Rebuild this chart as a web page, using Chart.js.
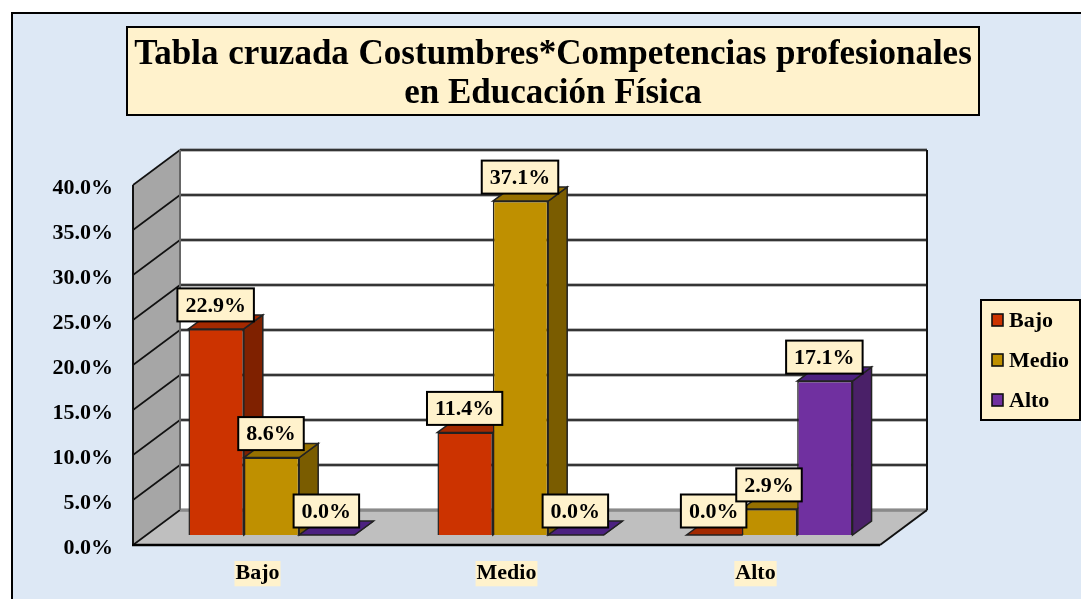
<!DOCTYPE html>
<html><head><meta charset="utf-8">
<style>html,body{margin:0;padding:0;background:#fff}canvas{display:block}</style>
<script src="https://cdn.jsdelivr.net/npm/chart.js@4/dist/chart.umd.min.js"></script>
</head><body><canvas id="c" width="1081" height="599"></canvas>
<script>
const categories = ['Bajo', 'Medio', 'Alto'];
const bajoValues = [22.9, 11.4, 0.0];
const medioValues = [8.6, 37.1, 2.9];
const altoValues = [0.0, 0.0, 17.1];
const titleLines = ['Tabla cruzada Costumbres*Competencias profesionales', 'en Educación Física'];
const SERIF = '"Liberation Serif","Times New Roman",serif';
const DEPTH = {x: 47, y: 35}, BAR_DEPTH = {x: 19, y: 14}, BAR_SHIFT = {x: 14, y: -10};
const CREAM = '#FFF2CC';
const shades = [{top: '#A32900', side: '#7F2100'}, {top: '#967000', side: '#7A5C00'}, {top: '#4C2180', side: '#4A2068'}];

function poly(ctx, pts, fill, stroke, lw) {
  ctx.beginPath();
  pts.forEach((p, i) => i ? ctx.lineTo(p[0], p[1]) : ctx.moveTo(p[0], p[1]));
  ctx.closePath();
  if (fill) { ctx.fillStyle = fill; ctx.fill(); }
  if (stroke) { ctx.strokeStyle = stroke; ctx.lineWidth = lw; ctx.stroke(); }
}
function seg(ctx, x1, y1, x2, y2, color, lw) {
  ctx.beginPath(); ctx.moveTo(x1, y1); ctx.lineTo(x2, y2);
  ctx.strokeStyle = color; ctx.lineWidth = lw; ctx.stroke();
}
function boxedText(ctx, text, cx, cy, w, h) {
  ctx.fillStyle = CREAM; ctx.fillRect(cx - w / 2, cy - h / 2, w, h);
  ctx.strokeStyle = '#000'; ctx.lineWidth = 2; ctx.strokeRect(cx - w / 2, cy - h / 2, w, h);
  ctx.fillStyle = '#000'; ctx.textAlign = 'center'; ctx.textBaseline = 'middle';
  ctx.fillText(text, cx, cy + 1);
}
function shiftLabels(scale, dy) {
  if (scale._labelsShifted) return;
  scale._labelsShifted = true;
  const orig = scale.drawLabels;
  scale.drawLabels = function (area) {
    const ctx = this.ctx;
    ctx.save(); ctx.translate(0, dy); orig.call(this, area); ctx.restore();
  };
}

const scene = {
  id: 'scene',
  beforeDraw(chart) {
    const {ctx, chartArea: a, scales: {y}} = chart;
    ctx.save();
    ctx.fillStyle = '#fff'; ctx.fillRect(0, 0, 1081, 599);
    ctx.fillStyle = '#DDE8F5'; ctx.fillRect(12, 13, 1069, 586);
    seg(ctx, 12, 13, 1081, 13, '#000', 2);
    seg(ctx, 12, 12, 12, 599, '#000', 2);
    // title box
    ctx.fillStyle = CREAM; ctx.fillRect(127, 27, 852, 88);
    ctx.strokeStyle = '#000'; ctx.lineWidth = 2; ctx.strokeRect(127, 27, 852, 88);
    ctx.fillStyle = '#000'; ctx.font = 'bold 35px ' + SERIF;
    ctx.textAlign = 'center'; ctx.textBaseline = 'middle';
    ctx.wordSpacing = '1px';
    ctx.fillText(titleLines[0], 553, 55);
    ctx.wordSpacing = '0px';
    ctx.fillText(titleLines[1], 553, 94);
    // walls
    const dx = DEPTH.x, dy = DEPTH.y, b = y.getPixelForValue(0), t = y.getPixelForValue(40);
    ctx.fillStyle = '#fff'; ctx.fillRect(a.left + dx, t - dy, a.right - a.left, b - t);
    poly(ctx, [[a.left, t], [a.left + dx, t - dy], [a.left + dx, b - dy], [a.left, b]], '#A6A6A6');
    poly(ctx, [[a.left, b], [a.left + dx, b - dy], [a.right + dx, b - dy], [a.right, b]], '#BFBFBF');
    y.ticks.forEach(tk => {
      const p = y.getPixelForValue(tk.value);
      seg(ctx, a.left + dx, p - dy, a.right + dx, p - dy, 'rgba(90,90,90,.55)', 3.5);
      seg(ctx, a.left + dx, p - dy, a.right + dx, p - dy, '#111', 1.6);
      seg(ctx, a.left, p, a.left + dx, p - dy, '#111', 1.6);
    });
    seg(ctx, a.left + dx, b - dy, a.right + dx, b - dy, '#8a8a8a', 2);
    seg(ctx, a.left + dx, t - dy, a.left + dx, b - dy, '#666', 2);
    seg(ctx, a.right + dx, t - dy, a.right + dx, b - dy, '#111', 2);
    seg(ctx, a.left, t, a.left, b, '#111', 2);
    seg(ctx, a.left - 1, b, a.right, b, '#000', 2.5);
    seg(ctx, a.right, b, a.right + dx, b - dy, '#111', 2);
    ctx.restore();
  },
  beforeDatasetsDraw(chart) {
    const ctx = chart.ctx, d = BAR_DEPTH;
    // Left-to-right painting: each bar's front hides its left neighbour's side face.
    chart.data.datasets.forEach((ds, i) => {
      const meta = chart.getDatasetMeta(i), s = shades[i];
      ctx.save();
      ctx.translate(BAR_SHIFT.x, BAR_SHIFT.y);
      meta.data.forEach(el => {
        const {x, y, base, width} = el.getProps(['x', 'y', 'base', 'width'], true);
        const l = x - width / 2, r = x + width / 2;
        poly(ctx, [[r, y], [r + d.x, y - d.y], [r + d.x, base - d.y], [r, base]], s.side, '#222', 1.5);
        poly(ctx, [[l, y], [l + d.x, y - d.y], [r + d.x, y - d.y], [r, y]], s.top, '#222', 1.5);
      });
      meta.controller.draw();
      ctx.restore();
    });
    ctx.save();
    ctx.font = 'bold 22px ' + SERIF;
    chart.data.datasets.forEach((ds, i) => {
      chart.getDatasetMeta(i).data.forEach((el, j) => {
        const label = ds.data[j].toFixed(1) + '%';
        const w = ctx.measureText(label).width + 16;
        boxedText(ctx, label, el.x + BAR_SHIFT.x - 0.5, el.y + BAR_SHIFT.y - 24, w, 33);
      });
    });
    // legend
    ctx.fillStyle = CREAM; ctx.fillRect(981, 300, 99, 120);
    ctx.strokeStyle = '#000'; ctx.lineWidth = 2; ctx.strokeRect(981, 300, 99, 120);
    chart.data.datasets.forEach((ds, i) => {
      const cy = 320 + i * 40;
      ctx.fillStyle = ds.backgroundColor; ctx.fillRect(992, cy - 6, 11, 12);
      ctx.strokeStyle = '#111'; ctx.lineWidth = 1.6; ctx.strokeRect(992, cy - 6, 11, 12);
      ctx.fillStyle = '#000'; ctx.textAlign = 'left'; ctx.textBaseline = 'middle';
      ctx.fillText(ds.label, 1009, cy + 1);
    });
    ctx.restore();
    return false;
  }
};

new Chart(document.getElementById('c'), {
  type: 'bar',
  data: {
    labels: categories,
    datasets: [
      {label: 'Bajo', data: bajoValues, backgroundColor: '#CC3300'},
      {label: 'Medio', data: medioValues, backgroundColor: '#BF9000'},
      {label: 'Alto', data: altoValues, backgroundColor: '#7030A0'}
    ]
  },
  options: {
    responsive: false, animation: false,
    layout: {padding: {left: 0, right: 201, top: 185, bottom: 0}},
    datasets: {bar: {categoryPercentage: 0.667, barPercentage: 1, borderWidth: 1.5, borderColor: '#222'}},
    plugins: {legend: {display: false}, title: {display: false}, tooltip: {enabled: false}},
    scales: {
      x: {
        grid: {display: false}, border: {display: false},
        afterFit(s) { s.height = 54; },
        ticks: {
          color: '#000', padding: 8, maxRotation: 0,
          font: {family: SERIF, size: 22, weight: 'bold', lineHeight: 1.15},
          showLabelBackdrop: true, backdropColor: CREAM, backdropPadding: {x: 1, y: 0}
        }
      },
      y: {
        min: 0, max: 40,
        grid: {display: false}, border: {display: false},
        afterFit(s) { s.width = 133; shiftLabels(s, 3); },
        ticks: {
          stepSize: 5, color: '#000', padding: 12,
          font: {family: SERIF, size: 22, weight: 'bold'},
          callback: v => v.toFixed(1) + '%'
        }
      }
    }
  },
  plugins: [scene]
});
</script></body></html>
